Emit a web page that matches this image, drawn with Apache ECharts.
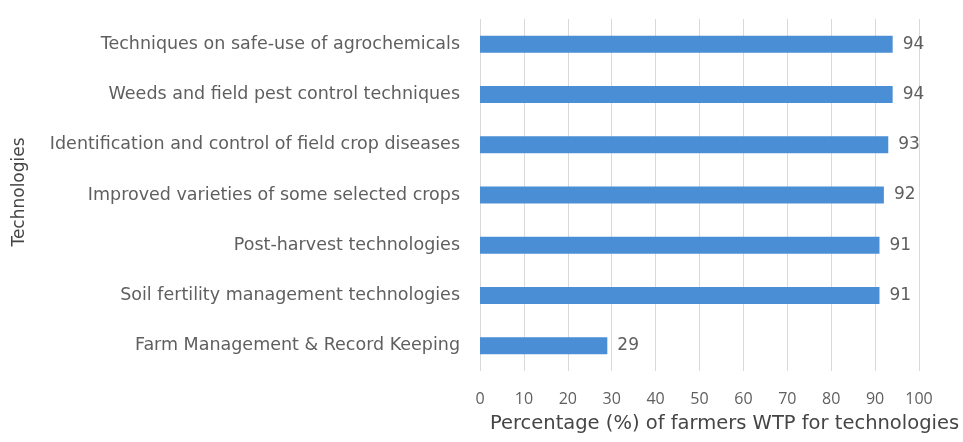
<!DOCTYPE html>
<html>
<head>
<meta charset="utf-8">
<script src="https://cdn.jsdelivr.net/npm/echarts@6/dist/echarts.min.js"></script>
<style>
  html, body { margin: 0; padding: 0; background: #fff; }
  #chart { width: 963px; height: 442px; }
</style>
</head>
<body>
<div id="chart"></div>
<script>
// categories, bottom to top (as the y axis draws them)
var technologies = [
    'Farm Management & Record Keeping',
    'Soil fertility management technologies',
    'Post-harvest technologies',
    'Improved varieties of some selected crops',
    'Identification and control of field crop diseases',
    'Weeds and field pest control techniques',
    'Techniques on safe-use of agrochemicals'
];
var wtpPercent = [29, 91, 91, 92, 93, 94, 94];
var xTicks = [0, 100, 10]; // min, max, interval

var myChart = echarts.init(document.getElementById('chart'));
var fontFam = '"Open Sans", "Liberation Sans", sans-serif';
var wideFam = '"DejaVu Sans", sans-serif';
var txtColor = '#5f5f5f';

var option = {
    animation: false,
    textStyle: { fontFamily: fontFam },
    grid: {
        left: 480,
        right: 44,
        top: 19,
        bottom: 71
    },
    xAxis: {
        type: 'value',
        min: xTicks[0],
        max: xTicks[1],
        interval: xTicks[2],
        axisLine: { show: false },
        axisTick: { show: false },
        splitLine: { lineStyle: { color: '#d9d9d9', width: 1 } },
        axisLabel: { color: txtColor, fontSize: 16, margin: 20, fontFamily: fontFam },
        name: 'Percentage (%) of farmers WTP for technologies',
        nameLocation: 'middle',
        nameGap: 43,
        nameTextStyle: { color: '#454545', fontSize: 19.5, fontFamily: wideFam, padding: [0, 0, 0, 50] }
    },
    yAxis: {
        type: 'category',
        data: technologies,
        axisLine: { show: false },
        axisTick: { show: false },
        axisLabel: { color: txtColor, fontSize: 17.5, margin: 20, fontFamily: wideFam },
        name: 'Technologies',
        nameLocation: 'middle',
        nameGap: 452,
        nameRotate: 90,
        nameTextStyle: { color: '#454545', fontSize: 17, fontFamily: wideFam, padding: [0, 0, 0, 6] }
    },
    series: [{
        type: 'bar',
        data: wtpPercent,
        barWidth: 17,
        itemStyle: { color: '#4a8fd6' },
        label: {
            show: true,
            position: 'right',
            distance: 10,
            color: txtColor,
            fontSize: 17,
            fontFamily: wideFam
        }
    }]
};
myChart.setOption(option);
</script>
</body>
</html>
